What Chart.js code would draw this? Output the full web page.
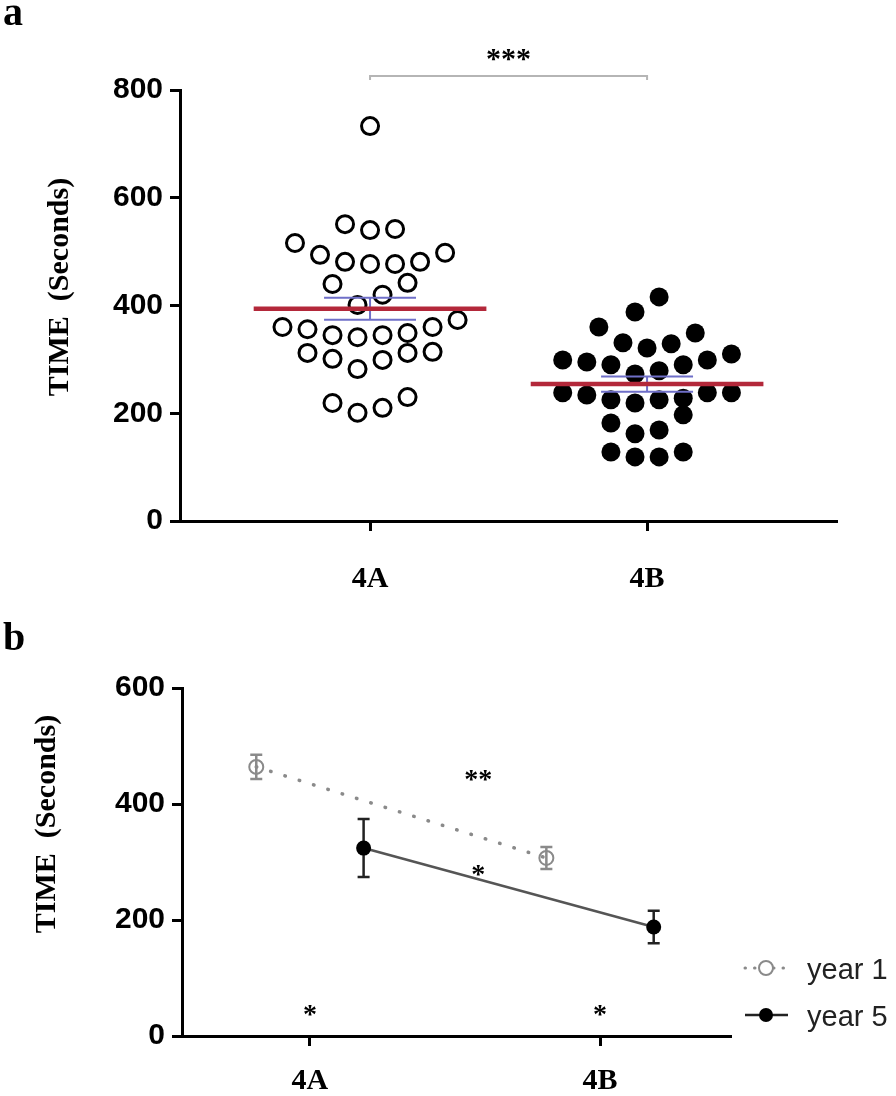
<!DOCTYPE html>
<html><head><meta charset="utf-8">
<script src="https://cdn.jsdelivr.net/npm/chart.js@4.4.1/dist/chart.umd.min.js"></script>
<style>
html,body{margin:0;padding:0;background:#fff;width:896px;height:1096px;overflow:hidden}
canvas{position:absolute;left:0}
#ca{top:0}
#cb{top:620px}
</style></head><body>
<canvas id="ca" width="896" height="620"></canvas>
<canvas id="cb" width="896" height="476"></canvas>
<script>
// ---------- data ----------
const categories = ['4A', '4B'];
const yTitle = 'TIME  (Seconds)';
const yTicksA = [0, 200, 400, 600, 800];
const yTicksB = [0, 200, 400, 600];
const time4A = [733, 551, 542, 540, 516, 498, 494, 481, 481, 477, 477, 442, 440, 420, 401,
  373, 360, 360, 356, 349, 345, 345, 341, 314, 312, 312, 301, 299, 282, 230, 219, 210, 201];
const time4B = [416, 388, 360, 349, 331, 329, 321, 310, 299, 299, 295, 290, 290, 279, 273,
  238, 238, 238, 234, 228, 225, 225, 219, 197, 182, 169, 162, 128, 128, 119, 119];
const seriesLabels = ['year 1', 'year 5'];
const year1Mean = [464, 307];
const year1Sem = [21, 19];
const year5Mean = [324, 188];
const year5Sem = [50, 28];
const sigA = '***';
const sigB = ['**', '*', '*', '*'];

// ---------- helpers ----------
function stats(v) {
  const n = v.length, m = v.reduce((a, b) => a + b, 0) / n;
  const sd = Math.sqrt(v.reduce((a, b) => a + (b - m) * (b - m), 0) / (n - 1));
  return { mean: m, sem: sd / Math.sqrt(n) };
}
// Prism-like scatter-dot layout: bin by value, spread each bin around the category centre
function swarm(values, center, binWidth, step) {
  const s = [...values].sort((a, b) => a - b);
  const bins = [];
  let cur = null;
  for (const v of s) {
    if (!cur || v - cur[0] > binWidth) { cur = [v]; bins.push(cur); } else cur.push(v);
  }
  const pts = [];
  for (const b of bins) {
    const n = b.length, c = Math.floor((n - 1) / 2);
    const order = [c];
    for (let k = 1; order.length < n; k++) {
      if (c + k < n) order.push(c + k);
      if (c - k >= 0 && order.length < n) order.push(c - k);
    }
    b.forEach((v, i) => pts.push({ x: center + (order[i] - (n - 1) / 2) * step, y: v }));
  }
  return pts;
}
const groups = [time4A, time4B];
const groupStats = groups.map(stats);

const serif = 'Liberation Serif', sans = 'Liberation Sans';
const axisGrid = { drawOnChartArea: false, drawTicks: true, tickLength: 10, color: '#000', lineWidth: 3 };
const axisBorder = { display: true, color: '#000', width: 3 };

function rotText(ctx, txt, x, y, font) {
  ctx.save(); ctx.translate(x, y); ctx.rotate(-Math.PI / 2);
  ctx.font = font; ctx.fillStyle = '#000'; ctx.textAlign = 'center'; ctx.textBaseline = 'middle';
  ctx.fillText(txt, 0, 0); ctx.restore();
}
function star(ctx, txt, x, y, size) {
  ctx.save(); ctx.font = 'bold ' + size + 'px "' + serif + '"'; ctx.fillStyle = '#000';
  ctx.textAlign = 'center'; ctx.textBaseline = 'alphabetic';
  ctx.fillText(txt, x, y + size * 0.53); ctx.restore();
}

// ---------- panel a ----------
const panelA = {
  id: 'panelA',
  afterDatasetsDraw(chart) {
    const ctx = chart.ctx, xs = chart.scales.x, ys = chart.scales.y;
    groupStats.forEach((st, i) => {
      const c = i + 1;
      ctx.save();
      ctx.strokeStyle = '#6f6fc8'; ctx.lineWidth = 2;
      ctx.beginPath();
      [st.mean + st.sem, st.mean - st.sem].forEach(v => {
        ctx.moveTo(xs.getPixelForValue(c - 0.166), ys.getPixelForValue(v));
        ctx.lineTo(xs.getPixelForValue(c + 0.166), ys.getPixelForValue(v));
      });
      ctx.moveTo(xs.getPixelForValue(c), ys.getPixelForValue(st.mean + st.sem));
      ctx.lineTo(xs.getPixelForValue(c), ys.getPixelForValue(st.mean - st.sem));
      ctx.stroke();
      ctx.strokeStyle = '#b3283a'; ctx.lineWidth = 4.5;
      ctx.beginPath();
      ctx.moveTo(xs.getPixelForValue(c - 0.42), ys.getPixelForValue(st.mean));
      ctx.lineTo(xs.getPixelForValue(c + 0.42), ys.getPixelForValue(st.mean));
      ctx.stroke();
      ctx.restore();
    });
  },
  afterDraw(chart) {
    const ctx = chart.ctx, xs = chart.scales.x, ys = chart.scales.y;
    // significance bracket
    const by = ys.getPixelForValue(826);
    ctx.save(); ctx.strokeStyle = '#b5b5b5'; ctx.lineWidth = 2;
    ctx.beginPath();
    ctx.moveTo(xs.getPixelForValue(1), by + 4); ctx.lineTo(xs.getPixelForValue(1), by);
    ctx.lineTo(xs.getPixelForValue(2), by); ctx.lineTo(xs.getPixelForValue(2), by + 4);
    ctx.stroke(); ctx.restore();
    star(ctx, sigA, xs.getPixelForValue(1.5), ys.getPixelForValue(871), 30);
    rotText(ctx, yTitle, 60, 287, 'bold 30px "' + serif + '"');
    ctx.save(); ctx.font = 'bold 40px "' + serif + '"'; ctx.fillStyle = '#000';
    ctx.textBaseline = 'alphabetic'; ctx.fillText('a', 3, 25); ctx.restore();
  }
};

new Chart(document.getElementById('ca'), {
  type: 'scatter',
  data: {
    datasets: [
      { data: swarm(time4A, 1, 42, 0.0903), pointRadius: 8.5, pointBorderWidth: 3,
        pointBorderColor: '#000', pointBackgroundColor: 'rgba(0,0,0,0)' },
      { data: swarm(time4B, 2, 42, 0.087), pointRadius: 9.5, pointBorderWidth: 0,
        pointBorderColor: '#000', pointBackgroundColor: '#000' }
    ]
  },
  options: {
    responsive: false, animation: false, events: [],
    layout: { padding: { left: 0, right: 60, top: 90, bottom: 0 } },
    plugins: { legend: { display: false }, tooltip: { enabled: false } },
    scales: {
      x: {
        type: 'linear', min: 0.314, max: 2.682,
        afterBuildTicks: s => { s.ticks = categories.map((c, i) => ({ value: i + 1 })); },
        ticks: { callback: v => categories[v - 1] || '', font: { family: serif, weight: 'bold', size: 30 },
          color: '#000', padding: 30, maxRotation: 0, autoSkip: false },
        grid: axisGrid, border: axisBorder,
        afterFit: s => { s.height = 99; }
      },
      y: {
        min: 0, max: 800,
        afterBuildTicks: s => { s.ticks = yTicksA.map(v => ({ value: v })); },
        ticks: { font: { family: sans, weight: 'bold', size: 30 }, color: '#000', padding: 7 },
        grid: axisGrid, border: axisBorder,
        afterFit: s => { s.width = 180; }
      }
    }
  },
  plugins: [panelA]
});

// ---------- panel b ----------
const dodge = 0.185;
const seriesB = [
  { mean: year1Mean, sem: year1Sem, dx: -dodge, color: '#8a8a8a' },
  { mean: year5Mean, sem: year5Sem, dx: dodge, color: '#222' }
];
const panelB = {
  id: 'panelB',
  beforeDatasetsDraw(chart) {
    const ctx = chart.ctx, xs = chart.scales.x, ys = chart.scales.y;
    seriesB.forEach(s => {
      ctx.save(); ctx.strokeStyle = s.color; ctx.lineWidth = 2.5;
      s.mean.forEach((m, i) => {
        const x = xs.getPixelForValue(i + 1 + s.dx);
        const y1 = ys.getPixelForValue(m + s.sem[i]), y2 = ys.getPixelForValue(m - s.sem[i]);
        ctx.beginPath();
        ctx.moveTo(x, y1); ctx.lineTo(x, y2);
        ctx.moveTo(x - 6, y1); ctx.lineTo(x + 6, y1);
        ctx.moveTo(x - 6, y2); ctx.lineTo(x + 6, y2);
        ctx.stroke();
      });
      ctx.restore();
    });
  },
  afterDraw(chart) {
    const ctx = chart.ctx, xs = chart.scales.x, ys = chart.scales.y;
    star(ctx, sigB[0], xs.getPixelForValue(1.58), ys.getPixelForValue(453), 28);
    star(ctx, sigB[1], xs.getPixelForValue(1.58), ys.getPixelForValue(290), 28);
    star(ctx, sigB[2], xs.getPixelForValue(1), ys.getPixelForValue(48), 28);
    star(ctx, sigB[3], xs.getPixelForValue(2), ys.getPixelForValue(48), 28);
    rotText(ctx, yTitle, 47, 204, 'bold 30px "' + serif + '"');
    ctx.save(); ctx.font = 'bold 40px "' + serif + '"'; ctx.fillStyle = '#000';
    ctx.textBaseline = 'alphabetic'; ctx.fillText('b', 3, 30); ctx.restore();
    // legend
    const ly = [348, 395];
    seriesLabels.forEach((lab, i) => {
      ctx.save();
      ctx.strokeStyle = seriesB[i].color;
      if (i === 0) { ctx.setLineDash([0.5, 9]); ctx.lineCap = 'round'; ctx.lineWidth = 3; }
      else { ctx.lineWidth = 2.5; }
      ctx.beginPath(); ctx.moveTo(745, ly[i]); ctx.lineTo(788, ly[i]); ctx.stroke();
      ctx.setLineDash([]);
      ctx.beginPath(); ctx.arc(766, ly[i], 7, 0, Math.PI * 2);
      if (i === 0) { ctx.fillStyle = '#fff'; ctx.fill(); ctx.lineWidth = 2; ctx.strokeStyle = '#8a8a8a'; ctx.stroke(); }
      else { ctx.fillStyle = '#000'; ctx.fill(); }
      ctx.font = '29px "' + sans + '"'; ctx.fillStyle = '#222'; ctx.textBaseline = 'alphabetic';
      ctx.fillText(lab, 807, ly[i] + 11);
      ctx.restore();
    });
  }
};

new Chart(document.getElementById('cb'), {
  type: 'scatter',
  data: {
    datasets: [
      { label: seriesLabels[0], data: year1Mean.map((m, i) => ({ x: i + 1 - dodge, y: m })), showLine: true,
        borderColor: '#8a8a8a', borderWidth: 3.5, borderDash: [0.5, 14.5], borderCapStyle: 'round',
        pointRadius: 7, pointBorderWidth: 2, pointBorderColor: '#8a8a8a', pointBackgroundColor: 'rgba(0,0,0,0)' },
      { label: seriesLabels[1], data: year5Mean.map((m, i) => ({ x: i + 1 + dodge, y: m })), showLine: true,
        borderColor: '#555', borderWidth: 2.5,
        pointRadius: 7.5, pointBorderWidth: 0, pointBorderColor: '#000', pointBackgroundColor: '#000' }
    ]
  },
  options: {
    responsive: false, animation: false, events: [],
    layout: { padding: { left: 0, right: 166, top: 68, bottom: 0 } },
    plugins: { legend: { display: false }, tooltip: { enabled: false } },
    scales: {
      x: {
        type: 'linear', min: 0.559, max: 2.448,
        afterBuildTicks: s => { s.ticks = categories.map((c, i) => ({ value: i + 1 })); },
        ticks: { callback: v => categories[v - 1] || '', font: { family: serif, weight: 'bold', size: 30 },
          color: '#000', padding: 17, maxRotation: 0, autoSkip: false },
        grid: axisGrid, border: axisBorder,
        afterFit: s => { s.height = 60; }
      },
      y: {
        min: 0, max: 600,
        afterBuildTicks: s => { s.ticks = yTicksB.map(v => ({ value: v })); },
        ticks: { font: { family: sans, weight: 'bold', size: 30 }, color: '#000', padding: 7 },
        grid: axisGrid, border: axisBorder,
        afterFit: s => { s.width = 182; }
      }
    }
  },
  plugins: [panelB]
});
</script>
</body></html>
